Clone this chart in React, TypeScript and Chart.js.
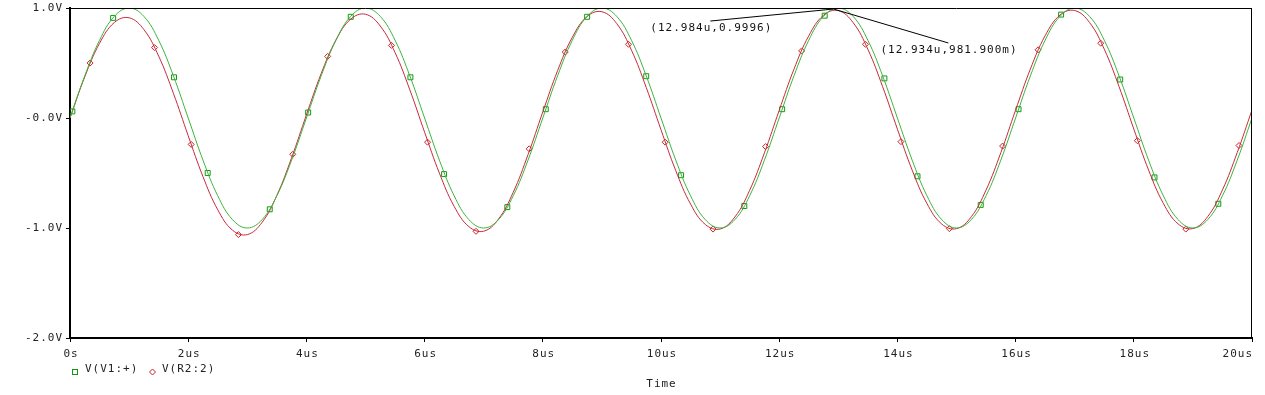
import React, { useEffect, useRef } from "react";
import { Chart, registerables } from "chart.js";

Chart.register(...registerables);

// ---- data ----
const time = [0,0.25,0.5,0.75,1,1.25,1.5,1.75,2,2.25,2.5,2.75,3,3.25,3.5,3.75,4,4.25,4.5,4.75,5,5.25,5.5,5.75,6,6.25,6.5,6.75,7,7.25,7.5,7.75,8,8.25,8.5,8.75,9,9.25,9.5,9.75,10,10.25,10.5,10.75,11,11.25,11.5,11.75,12,12.25,12.5,12.75,13,13.25,13.5,13.75,14,14.25,14.5,14.75,15,15.25,15.5,15.75,16,16.25,16.5,16.75,17,17.25,17.5,17.75,18,18.25,18.5,18.75,19,19.25,19.5,19.75,20];

const vV1 = [
  0,0.383,0.707,0.924,1.0,0.924,0.707,0.383,0,-0.383,-0.707,-0.924,-1.0,-0.924,-0.707,-0.383,
  0,0.383,0.707,0.924,1.0,0.924,0.707,0.383,0,-0.383,-0.707,-0.924,-1.0,-0.924,-0.707,-0.383,
  0,0.383,0.707,0.924,1.0,0.924,0.707,0.383,0,-0.383,-0.707,-0.924,-1.0,-0.924,-0.707,-0.383,
  0,0.383,0.707,0.924,1.0,0.924,0.707,0.383,0,-0.383,-0.707,-0.924,-1.0,-0.924,-0.707,-0.383,
  0,0.383,0.707,0.924,1.0,0.924,0.707,0.383,0,-0.383,-0.707,-0.924,-1.0,-0.924,-0.707,-0.383,
  0
];

const vR2 = [
  0.000,0.375,0.679,0.868,0.911,0.804,0.563,0.224,-0.161,-0.533,-0.834,-1.020,-1.060,-0.949,-0.704,-0.361,
  0.028,0.404,0.709,0.899,0.943,0.836,0.595,0.256,-0.129,-0.501,-0.803,-0.988,-1.029,-0.919,-0.675,-0.333,
  0.055,0.430,0.734,0.923,0.966,0.859,0.617,0.278,-0.107,-0.479,-0.782,-0.968,-1.009,-0.900,-0.657,-0.317,
  0.070,0.444,0.747,0.934,0.976,0.868,0.625,0.285,-0.101,-0.474,-0.777,-0.964,-1.006,-0.898,-0.655,-0.315,
  0.072,0.445,0.748,0.935,0.977,0.869,0.626,0.286,-0.100,-0.473,-0.776,-0.963,-1.005,-0.897,-0.654,-0.314,
  0.073
];

const markV1T = [0.04,0.73,1.76,2.33,3.38,4.03,4.75,5.76,6.33,7.40,8.05,8.75,9.75,10.34,11.41,12.05,12.77,13.78,14.34,15.41,16.05,16.77,17.77,18.35,19.43];
const markV1V = [0.06,0.91,0.37,-0.50,-0.83,0.05,0.92,0.37,-0.51,-0.81,0.08,0.92,0.38,-0.52,-0.80,0.08,0.93,0.36,-0.53,-0.79,0.08,0.94,0.35,-0.54,-0.78];

const markR2T = [0.34,1.43,2.05,2.85,3.77,4.36,5.44,6.05,6.87,7.77,8.38,9.45,10.07,10.88,11.77,12.38,13.46,14.06,14.88,15.78,16.38,17.44,18.06,18.88,19.78];
const markR2V = [0.50,0.64,-0.24,-1.06,-0.33,0.56,0.66,-0.22,-1.03,-0.28,0.60,0.67,-0.22,-1.01,-0.26,0.61,0.67,-0.215,-1.006,-0.255,0.62,0.68,-0.206,-1.01,-0.25];

const xTickValues = [0,2,4,6,8,10,12,14,16,18,20];
const xTickLabels = ["0s","2us","4us","6us","8us","10us","12us","14us","16us","18us","20us"];
const yTickValues = [-2,-1,0,1];
const yTickLabels = ["-2.0V","-1.0V","-0.0V","1.0V"];

const seriesNames = ["V(V1:+)", "V(R2:2)"];
const axisTitle = "Time";

const cursorPoints = [
  { t: 12.984, v: 0.9996, label: "(12.984u,0.9996)" },
  { t: 12.934, v: 0.9819, label: "(12.934u,981.900m)" },
];

// ---- style ----
const FAMILY = '"DejaVu Sans Mono", monospace';
const FONT = `11px ${FAMILY}`;
const TEXT = "#222";
const GREEN_LINE = "#3cb43c";
const RED_LINE = "#c8283c";
const GREEN_MARK = "#109a10";
const RED_MARK = "#cc2222";

function drawSquare(ctx: CanvasRenderingContext2D, x: number, y: number, color: string) {
  ctx.strokeStyle = color;
  ctx.lineWidth = 1;
  ctx.strokeRect(Math.round(x) - 2.5, Math.round(y) - 2.5, 5, 5);
}
function drawDiamond(ctx: CanvasRenderingContext2D, x: number, y: number, color: string) {
  ctx.strokeStyle = color;
  ctx.lineWidth = 1;
  ctx.beginPath();
  ctx.moveTo(x, y - 3);
  ctx.lineTo(x + 3, y);
  ctx.lineTo(x, y + 3);
  ctx.lineTo(x - 3, y);
  ctx.closePath();
  ctx.stroke();
}

const overlayPlugin = {
  id: "overlay",
  beforeLayout(chart: any) {
    (chart.ctx as any).letterSpacing = "1px";
  },
  beforeDraw(chart: any) {
    (chart.ctx as any).letterSpacing = "1px";
  },
  afterDraw(chart: any) {
    const ctx: CanvasRenderingContext2D = chart.ctx;
    const { left, right, top, bottom } = chart.chartArea;
    const xs = chart.scales.x;
    const ys = chart.scales.y;
    ctx.save();
    (ctx as any).letterSpacing = "1px";
    // frame top & right
    ctx.strokeStyle = "#000";
    ctx.lineWidth = 1;
    ctx.beginPath();
    ctx.moveTo(left, top + 0.5);
    ctx.lineTo(right, top + 0.5);
    ctx.moveTo(right - 0.5, top);
    ctx.lineTo(right - 0.5, bottom);
    ctx.stroke();

    // x tick labels
    ctx.font = FONT;
    ctx.fillStyle = TEXT;
    ctx.textBaseline = "middle";
    xTickValues.forEach((v, i) => {
      const px = xs.getPixelForValue(v);
      if (i === xTickValues.length - 1) {
        ctx.textAlign = "right";
        ctx.fillText(xTickLabels[i], px + 1, bottom + 16);
      } else {
        ctx.textAlign = "center";
        ctx.fillText(xTickLabels[i], px + 1, bottom + 16);
      }
    });

    // axis title
    ctx.textAlign = "center";
    ctx.fillText(axisTitle, (left + right) / 2 + 0.5, bottom + 46);

    // legend
    ctx.textAlign = "left";
    drawSquare(ctx, 75, bottom + 34, GREEN_MARK);
    ctx.fillText(seriesNames[0], 85, bottom + 31);
    drawDiamond(ctx, 152.5, bottom + 34, RED_MARK);
    ctx.fillText(seriesNames[1], 162, bottom + 31);

    // cursor annotations
    ctx.strokeStyle = "#000";
    ctx.lineWidth = 1;
    const p1x = xs.getPixelForValue(cursorPoints[0].t);
    const p1y = ys.getPixelForValue(cursorPoints[0].v);
    const p2x = xs.getPixelForValue(cursorPoints[1].t);
    const p2y = ys.getPixelForValue(cursorPoints[1].v);
    ctx.beginPath();
    ctx.moveTo(p1x - 4, p1y + 1);
    ctx.lineTo(p1x - 127, p1y + 13);
    ctx.moveTo(p2x - 1, p2y - 1);
    ctx.lineTo(p2x + 114, p2y + 33);
    ctx.stroke();
    ctx.fillStyle = "#111";
    ctx.textAlign = "left";
    ctx.fillText(cursorPoints[0].label, p1x - 187, p1y + 20);
    ctx.fillText(cursorPoints[1].label, p2x + 46, p2y + 40);
    ctx.restore();
  },
};

export default function App() {
  const ref = useRef<HTMLCanvasElement>(null);
  useEffect(() => {
    if (!ref.current) return;
    const chart = new Chart(ref.current, {
      type: "line",
      data: {
        datasets: [
          {
            label: seriesNames[0],
            data: time.map((t, i) => ({ x: t, y: vV1[i] })),
            borderColor: GREEN_LINE,
            borderWidth: 1,
            pointRadius: 0,
            tension: 0.4,
            fill: false,
          },
          {
            label: seriesNames[1],
            data: time.map((t, i) => ({ x: t, y: vR2[i] })),
            borderColor: RED_LINE,
            borderWidth: 1,
            pointRadius: 0,
            tension: 0.4,
            fill: false,
          },
          {
            label: seriesNames[0] + " markers",
            data: markV1T.map((t, i) => ({ x: t, y: markV1V[i] })),
            showLine: false,
            pointStyle: "rect",
            pointRadius: 3.5,
            pointBorderWidth: 1,
            pointBorderColor: GREEN_MARK,
            pointBackgroundColor: "rgba(0,0,0,0)",
            borderColor: GREEN_MARK,
          },
          {
            label: seriesNames[1] + " markers",
            data: markR2T.map((t, i) => ({ x: t, y: markR2V[i] })),
            showLine: false,
            pointStyle: "rectRot",
            pointRadius: 3,
            pointBorderWidth: 1,
            pointBorderColor: RED_MARK,
            pointBackgroundColor: "rgba(0,0,0,0)",
            borderColor: RED_MARK,
          },
        ],
      },
      options: {
        animation: false,
        responsive: false,
        devicePixelRatio: 1,
        layout: { padding: { top: 8, right: 13, bottom: 0, left: 0 } },
        plugins: {
          legend: { display: false },
          tooltip: { enabled: false },
        },
        elements: { point: { hoverRadius: 0 } },
        scales: {
          x: {
            type: "linear",
            min: 0,
            max: 20,
            afterBuildTicks: (scale: any) => {
              scale.ticks = xTickValues.map((v) => ({ value: v }));
            },
            ticks: { display: false },
            grid: {
              drawOnChartArea: false,
              drawTicks: true,
              tickLength: 4,
              color: "#000",
              lineWidth: 1,
            },
            border: { display: true, color: "#000", width: 2 },
            afterFit: (scale: any) => {
              scale.height = 57;
              scale.paddingLeft = 0;
              scale.paddingRight = 0;
            },
          },
          y: {
            type: "linear",
            min: -2,
            max: 1,
            afterBuildTicks: (scale: any) => {
              scale.ticks = yTickValues.map((v) => ({ value: v }));
            },
            ticks: {
              padding: 3,
              color: TEXT,
              font: { family: FAMILY, size: 11 },
              callback: (_v: any, i: number) => yTickLabels[i],
            },
            grid: {
              drawOnChartArea: false,
              drawTicks: true,
              tickLength: 4,
              color: "#000",
              lineWidth: 1,
            },
            border: { display: true, color: "#000", width: 2 },
            afterFit: (scale: any) => {
              scale.width = 70;
              scale.paddingTop = 0;
              scale.paddingBottom = 0;
            },
          },
        },
      },
      plugins: [overlayPlugin],
    } as any);
    return () => chart.destroy();
  }, []);
  return (
    <canvas
      ref={ref}
      width={1265}
      height={395}
      style={{ position: "fixed", left: 0, top: 0, width: 1265, height: 395, background: "#fff" }}
    />
  );
}
